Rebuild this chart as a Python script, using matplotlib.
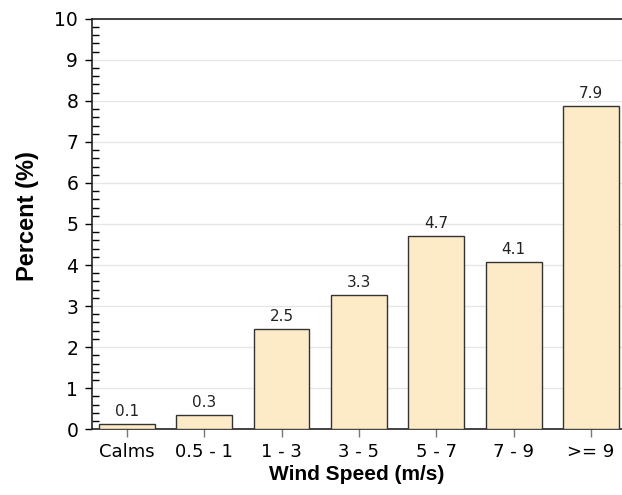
import matplotlib
matplotlib.use("Agg")
import matplotlib.pyplot as plt
from matplotlib.ticker import MultipleLocator

categories = ["Calms", "0.5 - 1", "1 - 3", "3 - 5", "5 - 7", "7 - 9", ">= 9"]
percent = [0.12, 0.35, 2.44, 3.26, 4.70, 4.07, 7.88]
labels = ["0.1", "0.3", "2.5", "3.3", "4.7", "4.1", "7.9"]

fig = plt.figure(figsize=(6.22, 4.95), dpi=100)
ax = fig.add_axes([0.148, 0.133, 0.852, 0.829])

x = range(len(categories))
bars = ax.bar(x, percent, width=0.72, color="#FDEAC6", edgecolor="#333333",
              linewidth=1, zorder=3)

for b, lab in zip(bars, labels):
    ax.text(b.get_x() + b.get_width() / 2, b.get_height() + 0.12, lab,
            ha="center", va="bottom", fontsize=11, color="#222222",
            family="DejaVu Sans")

ax.set_xlim(-0.45, 6.4)
ax.set_ylim(0, 10)
ax.set_xticks(list(x))
ax.set_xticklabels(categories, fontsize=13, family="DejaVu Sans")
ax.yaxis.set_major_locator(MultipleLocator(1))
ax.yaxis.set_minor_locator(MultipleLocator(0.2))
ax.tick_params(axis="y", which="major", direction="out", length=5, width=1,
               labelsize=13.5, pad=5)
ax.tick_params(axis="y", which="minor", direction="in", length=5, width=1)
ax.tick_params(axis="x", which="major", direction="out", length=6, width=1,
               color="#777777", labelsize=13, pad=4)

ax.grid(axis="y", which="major", color="#e6e6e6", linewidth=1, zorder=0)
ax.set_axisbelow(True)

ax.spines["right"].set_visible(False)
for s in ["left", "top", "bottom"]:
    ax.spines[s].set_color("#222222")
    ax.spines[s].set_linewidth(1.2)

ax.set_xlabel("Wind Speed (m/s)", fontsize=15, fontweight="bold",
              family="Liberation Sans", labelpad=3)
ax.set_ylabel("Percent (%)", fontsize=17, fontweight="bold",
              family="Liberation Sans")
ax.yaxis.set_label_coords(-0.1, 0.52)

fig.savefig("out.png", dpi=100)
